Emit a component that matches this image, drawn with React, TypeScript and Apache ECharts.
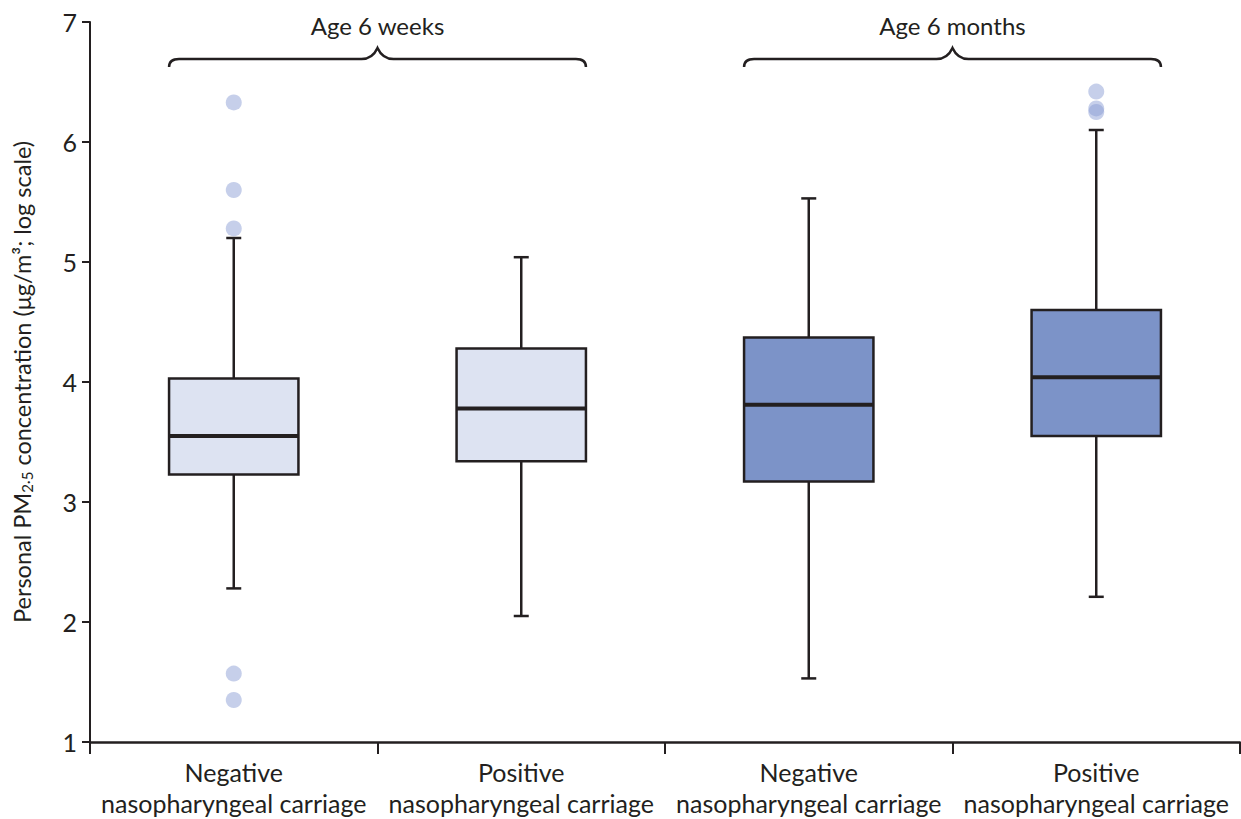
import React, { useEffect, useRef } from "react";
import * as echarts from "echarts";

// ---- data ----
const categories = [
  "Negative\nnasopharyngeal carriage",
  "Positive\nnasopharyngeal carriage",
  "Negative\nnasopharyngeal carriage",
  "Positive\nnasopharyngeal carriage",
];
const ageGroup = ["6w", "6w", "6m", "6m"];
// lower whisker, Q1, median, Q3, upper whisker
const whiskerLow = [2.28, 2.05, 1.53, 2.21];
const q1 = [3.23, 3.34, 3.17, 3.55];
const median = [3.55, 3.78, 3.81, 4.04];
const q3 = [4.03, 4.28, 4.37, 4.6];
const whiskerHigh = [5.2, 5.04, 5.53, 6.1];
// outliers: [category index, value]
const outliers = [
  [0, 6.33],
  [0, 5.6],
  [0, 5.28],
  [0, 1.57],
  [0, 1.35],
  [3, 6.42],
  [3, 6.28],
  [3, 6.25],
];
const yTicks = [1, 2, 3, 4, 5, 6, 7];
const braceGroups = [
  { from: 0, to: 1, label: "Age 6 weeks" },
  { from: 2, to: 3, label: "Age 6 months" },
];

const FONT = "Lato, 'Open Sans', sans-serif";
const INK = "#231f20";
const fillFor: Record<string, string> = { "6w": "#dde3f2", "6m": "#7c93c8" };

export default function App() {
  const ref = useRef<HTMLDivElement>(null);

  useEffect(() => {
    if (!ref.current) return;
    const chart = echarts.init(ref.current, undefined, { renderer: "svg" });

    const boxData = categories.map((_, i) => [
      i,
      whiskerLow[i],
      q1[i],
      median[i],
      q3[i],
      whiskerHigh[i],
    ]);

    const option: any = {
      animation: false,
      grid: { left: 90, right: 1, top: 22, bottom: 77, containLabel: false },
      xAxis: {
        type: "category",
        data: categories,
        boundaryGap: true,
        axisLine: { show: true, lineStyle: { color: INK, width: 2.5 } },
        axisTick: { show: true, length: 12, lineStyle: { color: INK, width: 2 }, alignWithLabel: false },
        axisLabel: {
          color: INK,
          fontFamily: FONT,
          fontSize: 25,
          lineHeight: 31,
          margin: 14,
          interval: 0,
        },
        splitLine: { show: false },
      },
      yAxis: {
        type: "value",
        min: yTicks[0],
        max: yTicks[yTicks.length - 1],
        interval: 1,
        axisLine: { show: true, lineStyle: { color: INK, width: 2 } },
        axisTick: { show: true, length: 8, lineStyle: { color: INK, width: 2 } },
        axisLabel: { color: INK, fontFamily: FONT, fontSize: 25, margin: 13 },
        splitLine: { show: false },
        name: "{a|Personal PM}{sub|2·5}{a| concentration (μg/m³; log scale)}",
        nameLocation: "middle",
        nameRotate: 90,
        nameGap: 56,
        nameTextStyle: {
          rich: {
            a: { fontFamily: FONT, fontSize: 23.5, color: INK },
            sub: { fontFamily: FONT, fontSize: 15, color: INK, padding: [9, 0, 0, 0] },
          },
        },
      },
      series: [
        {
          type: "custom",
          name: "box",
          data: boxData,
          encode: { x: 0, y: [1, 2, 3, 4, 5] },
          renderItem: (params: any, api: any) => {
            const idx = api.value(0);
            const cat = params.dataIndex;
            const pLow = api.coord([idx, api.value(1)]);
            const pQ1 = api.coord([idx, api.value(2)]);
            const pMed = api.coord([idx, api.value(3)]);
            const pQ3 = api.coord([idx, api.value(4)]);
            const pHigh = api.coord([idx, api.value(5)]);
            const bw = api.size([1, 0])[0] * 0.45;
            const cx = pMed[0];
            const cap = 7.5;
            const lineStyle = { stroke: INK, lineWidth: 2.5 };
            return {
              type: "group",
              children: [
                { type: "line", shape: { x1: cx, y1: pHigh[1], x2: cx, y2: pQ3[1] }, style: lineStyle },
                { type: "line", shape: { x1: cx, y1: pQ1[1], x2: cx, y2: pLow[1] }, style: lineStyle },
                { type: "line", shape: { x1: cx - cap, y1: pHigh[1], x2: cx + cap, y2: pHigh[1] }, style: lineStyle },
                { type: "line", shape: { x1: cx - cap, y1: pLow[1], x2: cx + cap, y2: pLow[1] }, style: lineStyle },
                {
                  type: "rect",
                  shape: { x: cx - bw / 2, y: pQ3[1], width: bw, height: pQ1[1] - pQ3[1] },
                  style: { fill: fillFor[ageGroup[cat]], stroke: INK, lineWidth: 2.5 },
                },
                {
                  type: "line",
                  shape: { x1: cx - bw / 2, y1: pMed[1], x2: cx + bw / 2, y2: pMed[1] },
                  style: { stroke: INK, lineWidth: 4 },
                },
              ],
            };
          },
          z: 2,
        },
        {
          type: "scatter",
          name: "outliers",
          data: outliers,
          symbol: "circle",
          symbolSize: 16,
          itemStyle: { color: "rgba(135,155,212,0.6)" },
          z: 3,
        },
        {
          type: "custom",
          name: "braces",
          data: braceGroups.map((g) => [g.from, g.to]),
          encode: { x: [0, 1] },
          clip: false,
          silent: true,
          renderItem: (params: any, api: any) => {
            const g = braceGroups[params.dataIndex];
            const bw = api.size([1, 0])[0] * 0.45;
            const pa = api.coord([g.from, 7]);
            const pb = api.coord([g.to, 7]);
            const x0 = pa[0] - bw / 2;
            const x1 = pb[0] + bw / 2;
            const xm = (x0 + x1) / 2;
            const y0 = pa[1] + 37;
            const d =
              `M ${x0} ${y0 + 8} Q ${x0} ${y0} ${x0 + 10} ${y0} ` +
              `L ${xm - 16} ${y0} Q ${xm - 5} ${y0} ${xm} ${y0 - 11} ` +
              `Q ${xm + 5} ${y0} ${xm + 16} ${y0} ` +
              `L ${x1 - 10} ${y0} Q ${x1} ${y0} ${x1} ${y0 + 8}`;
            return {
              type: "group",
              children: [
                {
                  type: "path",
                  shape: { pathData: d },
                  style: { fill: "none", stroke: INK, lineWidth: 2.5 },
                },
                {
                  type: "text",
                  x: xm,
                  y: pa[1] + 3,
                  style: {
                    text: g.label,
                    fontFamily: FONT,
                    fontSize: 24,
                    fill: INK,
                    textAlign: "center",
                    textVerticalAlign: "middle",
                  },
                },
              ],
            };
          },
          z: 4,
        },
      ],
    };

    chart.setOption(option);
    return () => chart.dispose();
  }, []);

  return (
    <div
      ref={ref}
      style={{ position: "fixed", left: 0, top: 0, width: 1241, height: 819, background: "#fff" }}
    />
  );
}
